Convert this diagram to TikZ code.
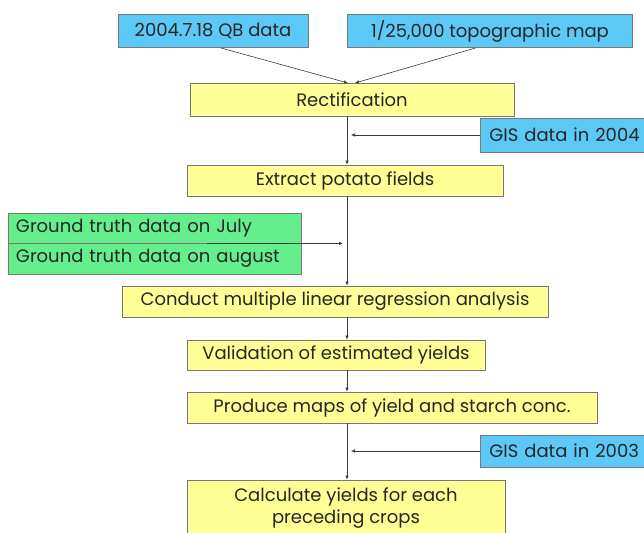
\documentclass[tikz,border=0pt]{standalone}
\usepackage{fontspec}
\setmainfont{Poppins}
\usetikzlibrary{arrows.meta,calc}

\definecolor{databl}{RGB}{92,200,245}
\definecolor{stepyl}{RGB}{255,255,150}
\definecolor{truthgr}{RGB}{100,238,140}
\definecolor{edgegr}{RGB}{120,120,120}
\definecolor{linegr}{RGB}{60,60,60}

\tikzset{
  boxbase/.style={draw=edgegr, line width=0.8pt, inner sep=2pt,
    font=\fontsize{18}{22}\selectfont, text=black!85},
  databox/.style={boxbase, fill=databl},
  stepbox/.style={boxbase, fill=stepyl},
  truthbox/.style={boxbase, fill=truthgr, text width=277pt, align=left,
    inner xsep=8pt},
  sidebox/.style={databox, anchor=west, text width=162pt, align=left,
    inner xsep=9pt},
  arr/.style={-{Latex[length=4pt,width=3.5pt]}, draw=linegr, line width=0.6pt}
}

\begin{document}
\begin{tikzpicture}[x=1pt,y=-1pt]
\useasboundingbox (0,0) rectangle (644,532);

% inputs on top
\node[databox, minimum width=190pt, minimum height=33pt] (qb) at (213,31) {2004.7.18 QB data};
\node[databox, minimum width=285pt, minimum height=33pt] (topo) at (490,31) {1/25,000 topographic map};

% main chain
\node[stepbox, minimum width=324pt, minimum height=33pt] (rect) at (352,99.5) {Rectification};
\node[stepbox, minimum width=316pt, minimum height=31pt] (extract) at (345,180.5) {Extract potato fields};
\node[stepbox, minimum width=426pt, minimum height=31pt] (mlr) at (335,301.5) {Conduct multiple linear regression analysis};
\node[stepbox, minimum width=298pt, minimum height=30pt] (valid) at (336,355) {Validation of estimated yields};
\node[stepbox, minimum width=410pt, minimum height=31pt] (maps) at (392,407.5) {Produce maps of yield and starch conc.};
\node[stepbox, minimum width=318pt, minimum height=56pt, align=center] (calcy) at (346,508) {Calculate yields for each\\preceding crops};

% side inputs
\node[sidebox, minimum height=34pt] (gis4) at (480,135) {GIS data in 2004};
\node[sidebox, minimum height=32pt] (gis3) at (480,451) {GIS data in 2003};
\node[truthbox, minimum height=30pt] (jul) at (154.5,228) {Ground truth data on July};
\node[truthbox, minimum height=31pt] (aug) at (154.5,258.5) {Ground truth data on august};

\coordinate (spine) at (347,0);
\coordinate (rtip) at (351,0);
\coordinate (ltip) at (343,0);
\coordinate (gstart) at ($(jul.south west)!0.68!(jul.south east)$);

% connectors
\draw[arr] ($(qb.south west)!0.54!(qb.south east)$) -- (348,83);
\draw[arr] ($(topo.south west)!0.45!(topo.south east)$) -- (355,83);
\draw[arr] (rect.south -| spine) -- (extract.north -| spine);
\draw[arr] (extract.south -| spine) -- (mlr.north -| spine);
\draw[arr] (mlr.south -| spine) -- (valid.north -| spine);
\draw[arr] (valid.south -| spine) -- (maps.north -| spine);
\draw[arr] (maps.south -| spine) -- (calcy.north -| spine);
\draw[arr] (gis4.west) -- (gis4.west -| rtip);
\draw[arr] (gis3.west) -- (gis3.west -| rtip);
\draw[arr, line width=0.8pt] (gstart) -- (gstart -| ltip);
\end{tikzpicture}
\end{document}
